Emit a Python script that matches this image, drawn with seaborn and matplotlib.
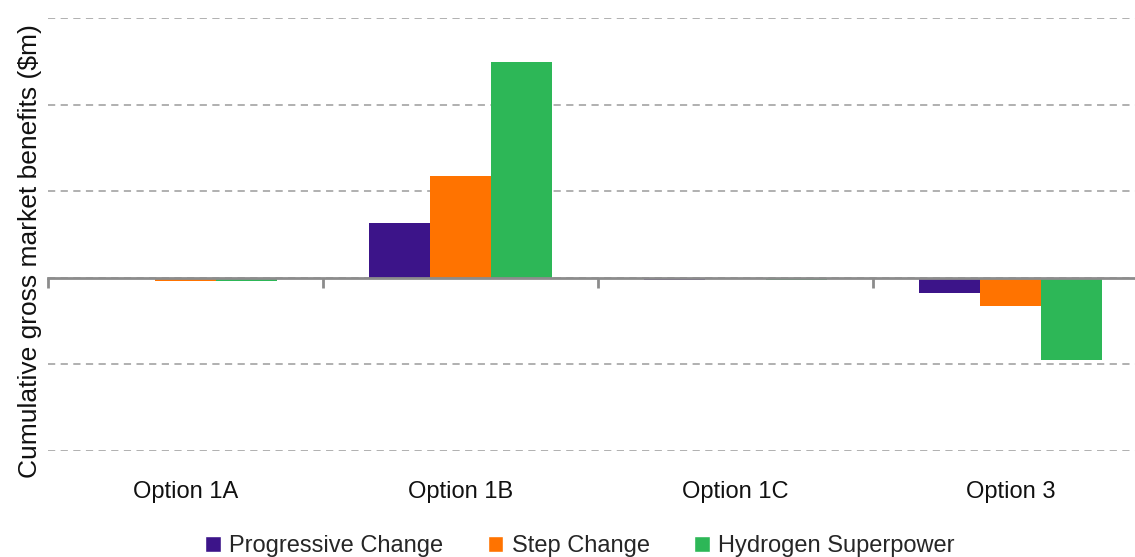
import pandas as pd
import matplotlib.pyplot as plt
import seaborn as sns
from matplotlib.patches import Patch

# values ($m), grid step assumed 100
options = ["Option 1A", "Option 1B", "Option 1C", "Option 3"]
scenarios = ["Progressive Change", "Step Change", "Hydrogen Superpower"]
progressive = [0, 63, -2.5, -18]
step = [-4, 118, -1.5, -32]
hydrogen = [-4, 249, -2.5, -95]
colors = ["#3C1489", "#FF7300", "#2DB757"]

rows = []
for s, vals in zip(scenarios, [progressive, step, hydrogen]):
    for o, v in zip(options, vals):
        rows.append({"option": o, "scenario": s, "value": v})
df = pd.DataFrame(rows)

sns.set_theme(style="white")
plt.rcParams["font.family"] = ["Liberation Sans", "DejaVu Sans"]

fig = plt.figure(figsize=(11.35, 5.57), dpi=100)
ax = fig.add_axes([48 / 1135, 1 - 451 / 557, (1135 - 48) / 1135, (451 - 18) / 557])

sns.barplot(data=df, x="option", y="value", hue="scenario", palette=colors,
            width=0.667, saturation=1, linewidth=0, ax=ax, legend=False)

ax.set_yticks([-200, -100, 0, 100, 200, 300])
ax.set_yticklabels([])
ax.tick_params(axis="y", length=0)
ax.yaxis.grid(True, linestyle=(0, (4, 3)), color="#aaaaaa", linewidth=1.3)
ax.set_axisbelow(True)

for side in ["top", "right", "left"]:
    ax.spines[side].set_visible(False)
ax.spines["bottom"].set_position(("data", 0))
ax.spines["bottom"].set_color("#8c8c8c")
ax.spines["bottom"].set_linewidth(2)
ax.spines["bottom"].set_zorder(5)

ax.set_xticks(range(len(options)))
ax.set_xticklabels(options, fontsize=17)
ax.set_xticks([-0.5, 0.5, 1.5, 2.5], minor=True)
ax.tick_params(axis="x", which="major", length=0, pad=146, labelcolor="#111111")
ax.tick_params(axis="x", which="minor", bottom=True, length=7, width=2,
               color="#8c8c8c", direction="out")
ax.set_ylim(-200, 300)
ax.set_xlim(-0.5, -0.5 + (1135 - 48) / 275)
ax.set_xlabel("")
ax.set_ylabel("Cumulative gross market benefits ($m)", fontsize=19, color="#111111")
ax.yaxis.set_label_coords(-6 / 1087, 0.462)

handles = [Patch(facecolor=c, label=s) for c, s in zip(colors, scenarios)]
fig.legend(handles=handles, loc="center", bbox_to_anchor=(580 / 1135, 1 - 546 / 557),
           ncol=3, frameon=False, fontsize=17, handlelength=0.65, handleheight=0.65,
           handletextpad=0.35, columnspacing=1.9)

fig.savefig("out.png", dpi=100)
